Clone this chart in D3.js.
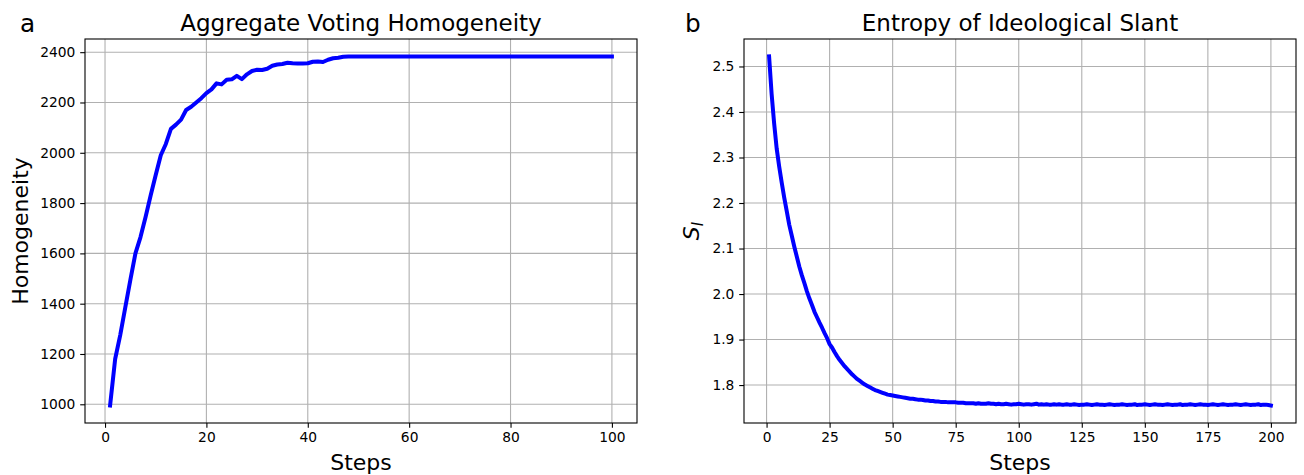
<!DOCTYPE html>
<html>
<head>
<meta charset="utf-8">
<script src="https://cdn.jsdelivr.net/npm/d3@7"></script>
<style>
  body { margin: 0; background: #fff; }
  svg text { font-family: "DejaVu Sans", sans-serif; fill: #000; }
</style>
</head>
<body>
<svg id="fig" width="1304" height="475"></svg>
<script>
// panel a : aggregate voting homogeneity, steps 1..100
const homogeneity = [
  995, 1180, 1275, 1385, 1495, 1600, 1665, 1745, 1830, 1912,
  1990, 2035, 2095, 2112, 2132, 2170, 2183, 2200, 2217, 2237,
  2252, 2276, 2272, 2290, 2292, 2306, 2293, 2312, 2325, 2330,
  2329, 2334, 2346, 2351, 2353, 2358, 2356, 2355, 2355, 2356,
  2362, 2363, 2361, 2370, 2376, 2378, 2382,
  2383, 2383, 2383, 2383, 2383, 2383, 2383, 2383, 2383, 2383,
  2383, 2383, 2383, 2383, 2383, 2383, 2383, 2383, 2383, 2383,
  2383, 2383, 2383, 2383, 2383, 2383, 2383, 2383, 2383, 2383,
  2383, 2383, 2383, 2383, 2383, 2383, 2383, 2383, 2383, 2383,
  2383, 2383, 2383, 2383, 2383, 2383, 2383, 2383, 2383, 2383,
  2383, 2383, 2383
];
const homXTicks = [0, 20, 40, 60, 80, 100];
const homYTicks = [1000, 1200, 1400, 1600, 1800, 2000, 2200, 2400];

// panel b : entropy of ideological slant, steps 1..200
const entropy = [
  2.522, 2.440, 2.375, 2.320, 2.280, 2.245, 2.212, 2.182, 2.152, 2.128,
  2.104, 2.082, 2.060, 2.041, 2.024, 2.006, 1.990, 1.976, 1.961, 1.949,
  1.937, 1.926, 1.914, 1.903, 1.890, 1.882, 1.872, 1.863, 1.855, 1.848,
  1.841, 1.835, 1.829, 1.823, 1.818, 1.813, 1.809, 1.805, 1.801, 1.798,
  1.795, 1.792, 1.789, 1.787, 1.785, 1.783, 1.781, 1.779, 1.778, 1.777,
  1.776, 1.775, 1.774, 1.773, 1.772, 1.771, 1.770, 1.770, 1.769, 1.768,
  1.768, 1.767, 1.766, 1.766, 1.765, 1.765, 1.764, 1.764, 1.763, 1.763,
  1.763, 1.762, 1.762, 1.762, 1.762, 1.761, 1.761, 1.761, 1.760, 1.760,
  1.760, 1.760, 1.759, 1.760, 1.759, 1.759, 1.759, 1.760, 1.759, 1.759,
  1.758, 1.759, 1.758, 1.758, 1.759, 1.758, 1.757, 1.758, 1.758, 1.759,
  1.758, 1.757, 1.758, 1.758, 1.757, 1.758, 1.759, 1.757, 1.758, 1.757,
  1.758, 1.757, 1.757, 1.758, 1.757, 1.758, 1.757, 1.757, 1.758, 1.757,
  1.757, 1.758, 1.757, 1.756, 1.757, 1.757, 1.758, 1.757, 1.756, 1.757,
  1.758, 1.757, 1.757, 1.756, 1.757, 1.758, 1.757, 1.756, 1.757, 1.757,
  1.758, 1.757, 1.756, 1.757, 1.757, 1.758, 1.756, 1.757, 1.757, 1.758,
  1.757, 1.756, 1.757, 1.758, 1.757, 1.757, 1.756, 1.757, 1.758, 1.757,
  1.756, 1.757, 1.757, 1.758, 1.756, 1.757, 1.757, 1.758, 1.757, 1.756,
  1.757, 1.758, 1.757, 1.757, 1.756, 1.757, 1.758, 1.757, 1.756, 1.757,
  1.758, 1.757, 1.756, 1.757, 1.757, 1.758, 1.757, 1.756, 1.757, 1.758,
  1.757, 1.756, 1.757, 1.757, 1.758, 1.756, 1.757, 1.757, 1.756, 1.755
];
const entXTicks = [0, 25, 50, 75, 100, 125, 150, 175, 200];
const entYTicks = [1.8, 1.9, 2.0, 2.1, 2.2, 2.3, 2.4, 2.5];

const svg = d3.select('#fig');

function padded(lo, hi) {
  const m = (hi - lo) * 0.05;
  return [lo - m, hi + m];
}

function drawPanel(p) {
  const g = svg.append('g').attr('transform', `translate(${p.left},${p.top})`);
  const w = p.width, h = p.height;

  const x = d3.scaleLinear().domain(padded(1, p.values.length)).range([0, w]);
  const y = d3.scaleLinear().domain(padded(d3.min(p.values), d3.max(p.values))).range([h, 0]);

  // grid
  g.append('g').attr('class', 'grid')
    .selectAll('line.vx').data(p.xTicks).join('line')
    .attr('x1', d => x(d)).attr('x2', d => x(d)).attr('y1', 0).attr('y2', h);
  g.select('.grid')
    .selectAll('line.hy').data(p.yTicks).join('line')
    .attr('x1', 0).attr('x2', w).attr('y1', d => y(d)).attr('y2', d => y(d));
  g.selectAll('.grid line').attr('stroke', '#b0b0b0').attr('stroke-width', 1.1);

  // the series
  const line = d3.line().x((d, i) => x(i + 1)).y(d => y(d));
  g.append('path').datum(p.values)
    .attr('d', line)
    .attr('fill', 'none')
    .attr('stroke', '#0000ff')
    .attr('stroke-width', 4)
    .attr('stroke-linejoin', 'round')
    .attr('stroke-linecap', 'square');

  // axes
  const xa = g.append('g').attr('transform', `translate(0,${h})`)
    .call(d3.axisBottom(x).tickValues(p.xTicks).tickFormat(d3.format('d')).tickSize(4.8).tickPadding(4.8).tickSizeOuter(0));
  const ya = g.append('g')
    .call(d3.axisLeft(y).tickValues(p.yTicks).tickFormat(d3.format(p.yFormat)).tickSize(4.8).tickPadding(4.8).tickSizeOuter(0));
  [xa, ya].forEach(a => {
    a.select('.domain').remove();
    a.selectAll('line').attr('stroke', '#000').attr('stroke-width', 1.1);
    a.selectAll('text').attr('font-size', 13.8).attr('font-family', '"DejaVu Sans", sans-serif').attr('fill', '#000');
  });

  // frame
  g.append('rect').attr('width', w).attr('height', h)
    .attr('fill', 'none').attr('stroke', '#000').attr('stroke-width', 1.1);

  // title, panel letter, labels
  g.append('text').attr('x', w / 2).attr('y', -8)
    .attr('text-anchor', 'middle').attr('font-size', 23).text(p.title);
  svg.append('text').attr('x', p.letterX).attr('y', 32)
    .attr('font-size', 24.75).text(p.letter);
  g.append('text').attr('x', w / 2).attr('y', h + 47)
    .attr('text-anchor', 'middle').attr('font-size', 22).text('Steps');

  const yl = svg.append('text')
    .attr('transform', `translate(${p.ylabelX},${p.top + h / 2}) rotate(-90)`)
    .attr('text-anchor', 'middle').attr('font-size', 22);
  if (p.ylabelSub) {
    yl.append('tspan').attr('font-style', 'italic').text(p.ylabel);
    yl.append('tspan').attr('font-style', 'italic').attr('font-size', 15.4)
      .attr('dy', 4).text(p.ylabelSub);
  } else {
    yl.text(p.ylabel);
  }
}

drawPanel({
  left: 85, top: 39, width: 552, height: 384,
  values: homogeneity, xTicks: homXTicks, yTicks: homYTicks, yFormat: 'd',
  title: 'Aggregate Voting Homogeneity', letter: 'a', letterX: 20,
  ylabel: 'Homogeneity', ylabelX: 28
});

drawPanel({
  left: 744, top: 39, width: 552, height: 384,
  values: entropy, xTicks: entXTicks, yTicks: entYTicks, yFormat: '.1f',
  title: 'Entropy of Ideological Slant', letter: 'b', letterX: 685,
  ylabel: 'S', ylabelSub: 'I', ylabelX: 699
});
</script>
</body>
</html>
